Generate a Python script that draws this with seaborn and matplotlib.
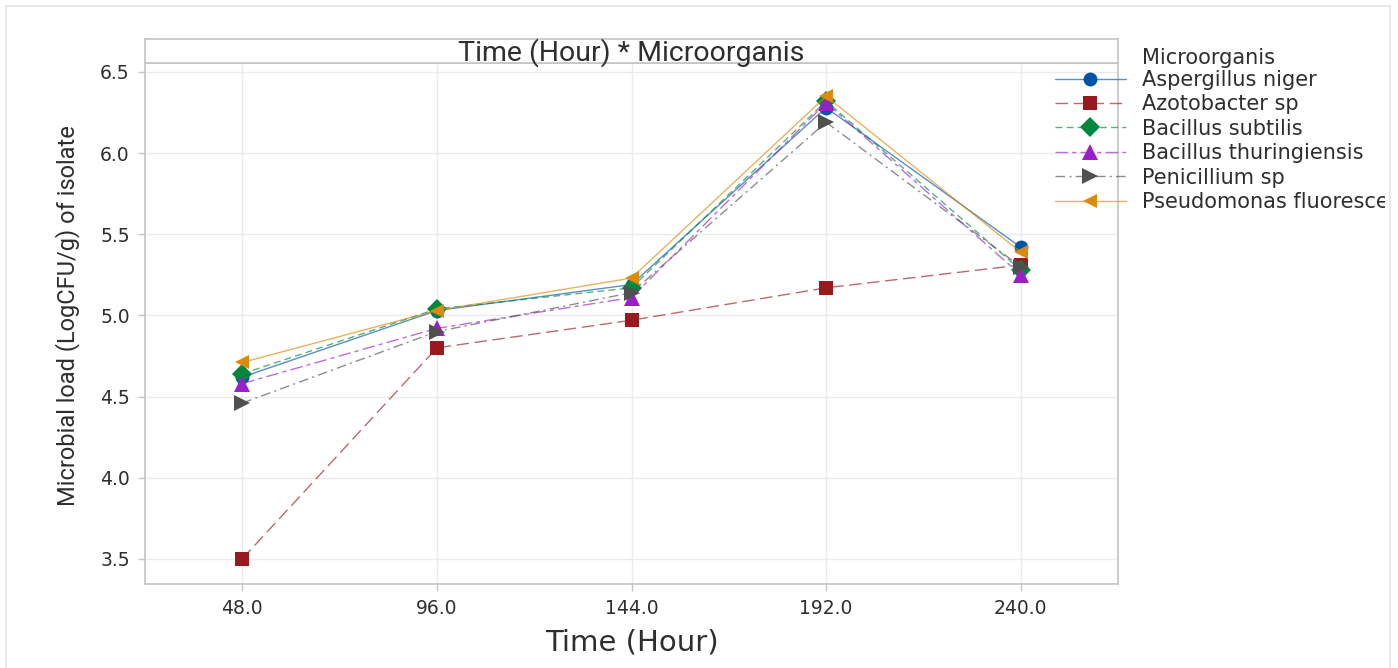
import matplotlib
matplotlib.use("Agg")
import matplotlib.pyplot as plt
import numpy as np
import pandas as pd
import seaborn as sns
from matplotlib.colors import to_rgba
from matplotlib.patches import Rectangle
from matplotlib.transforms import Bbox

# Microbial load per isolate over incubation time
hours = [48, 96, 144, 192, 240]
organisms = [
    "Aspergillus niger",
    "Azotobacter sp",
    "Bacillus subtilis",
    "Bacillus thuringiensis",
    "Penicillium sp",
    "Pseudomonas fluorescens",
]
aspergillus_niger = [4.62, 5.03, 5.19, 6.28, 5.42]
azotobacter_sp = [3.50, 4.80, 4.97, 5.17, 5.31]
bacillus_subtilis = [4.64, 5.04, 5.17, 6.32, 5.28]
bacillus_thuringiensis = [4.58, 4.92, 5.11, 6.31, 5.25]
penicillium_sp = [4.46, 4.90, 5.14, 6.19, 5.30]
pseudomonas_fluorescens = [4.71, 5.03, 5.23, 6.35, 5.39]

xtick_labels = ["48.0", "96.0", "144.0", "192.0", "240.0"]
ytick_values = [3.5, 4.0, 4.5, 5.0, 5.5, 6.0, 6.5]

series = [aspergillus_niger, azotobacter_sp, bacillus_subtilis,
          bacillus_thuringiensis, penicillium_sp, pseudomonas_fluorescens]
df = pd.DataFrame({
    "Time (Hour)": hours * len(organisms),
    "Load": [v for s in series for v in s],
    "Microorganis": [o for o in organisms for _ in hours],
})

palette = {
    "Aspergillus niger": "#0054A6",
    "Azotobacter sp": "#981A1E",
    "Bacillus subtilis": "#00873E",
    "Bacillus thuringiensis": "#9A1FC8",
    "Penicillium sp": "#505050",
    "Pseudomonas fluorescens": "#DB8A0C",
}
markers = {
    "Aspergillus niger": "o",
    "Azotobacter sp": "s",
    "Bacillus subtilis": "D",
    "Bacillus thuringiensis": "^",
    "Penicillium sp": ">",
    "Pseudomonas fluorescens": "<",
}
dashes = {
    "Aspergillus niger": "",
    "Azotobacter sp": (9, 4),
    "Bacillus subtilis": (5, 3),
    "Bacillus thuringiensis": (9, 3, 3, 3),
    "Penicillium sp": (7, 3, 1.5, 3),
    "Pseudomonas fluorescens": "",
}

sns.set_theme(style="white")
plt.rcParams["font.family"] = ["DejaVu Sans"]
narrow = ["Liberation Sans Narrow", "Roboto", "DejaVu Sans"]
text_color = "#2E2E2E"
frame_color = "#C4C4C4"

fig = plt.figure(figsize=(13.98, 6.68), dpi=100)
fig.patch.set_facecolor("white")

left, right = 145 / 1398, 1118 / 1398
bottom, top = 1 - 584 / 668, 1 - 63 / 668
strip_top = 1 - 39 / 668
ax = fig.add_axes([left, bottom, right - left, top - bottom])

sns.lineplot(
    data=df, x="Time (Hour)", y="Load",
    hue="Microorganis", style="Microorganis",
    hue_order=organisms, style_order=organisms,
    palette=palette, markers=markers, dashes=dashes,
    linewidth=1.0, markersize=10, markeredgewidth=0,
    errorbar=None, legend=False, ax=ax,
)

# keep markers solid while the connecting lines stay lighter
for line, org in zip(ax.lines, organisms):
    c = palette[org]
    line.set_markerfacecolor(c)
    line.set_markeredgecolor(c)
    line.set_color(to_rgba(c, 0.65))
    if org in ("Bacillus thuringiensis", "Penicillium sp"):
        line.set_markersize(11)

ax.set_xlim(24, 264)
ax.set_ylim(3.345, 6.555)
ax.set_xticks(hours)
ax.set_xticklabels(xtick_labels)
ax.set_yticks(ytick_values)
ax.set_yticklabels([f"{v:.1f}" for v in ytick_values])
ax.grid(True, color="#EBEBEB", linewidth=1.0)
ax.set_axisbelow(True)
ax.tick_params(axis="both", which="major", length=5, width=1,
               color=frame_color, labelsize=13.5, labelcolor=text_color,
               pad=6, bottom=True, left=True)
for sp in ax.spines.values():
    sp.set_color(frame_color)
    sp.set_linewidth(1.2)

ax.set_xlabel("Time (Hour)", fontsize=21, color=text_color, labelpad=7)
ax.set_ylabel("Microbial load (LogCFU/g) of isolate", fontsize=17,
              color=text_color, family=narrow)
ax.yaxis.set_label_coords(-0.067, 0.516)

# title strip above the panel
strip = fig.add_axes([left, top, right - left, strip_top - top])
strip.set_xticks([])
strip.set_yticks([])
strip.set_facecolor("white")
for sp in strip.spines.values():
    sp.set_color(frame_color)
    sp.set_linewidth(1.2)
strip.text(0.5, 0.45, "Time (Hour) * Microorganis", transform=strip.transAxes,
           ha="center", va="center", fontsize=20.5, color=text_color,
           family=narrow)

# legend outside the panel on the right
handles = list(ax.lines[:len(organisms)])
leg = fig.legend(
    handles, organisms, loc="upper left",
    bbox_to_anchor=(1055 / 1398, 1 - 70 / 668),
    frameon=False, fontsize=15, handlelength=3.4, handletextpad=0.8,
    labelspacing=0.21, borderpad=0, borderaxespad=0,
)
for t in leg.get_texts():
    t.set_color(text_color)
    t.set_clip_box(Bbox.from_extents(0, 0, 1385, 668))
fig.text(1142 / 1398, 1 - 58 / 668, "Microorganis", ha="left", va="center",
         fontsize=15, color=text_color)

# light outer border
fig.patches.append(Rectangle((6 / 1398, -0.02), 1384 / 1398, 1.02 - 6 / 668,
                             transform=fig.transFigure, fill=False,
                             edgecolor="#E4E4E4", linewidth=1.2))

fig.savefig("out.png", dpi=100)
